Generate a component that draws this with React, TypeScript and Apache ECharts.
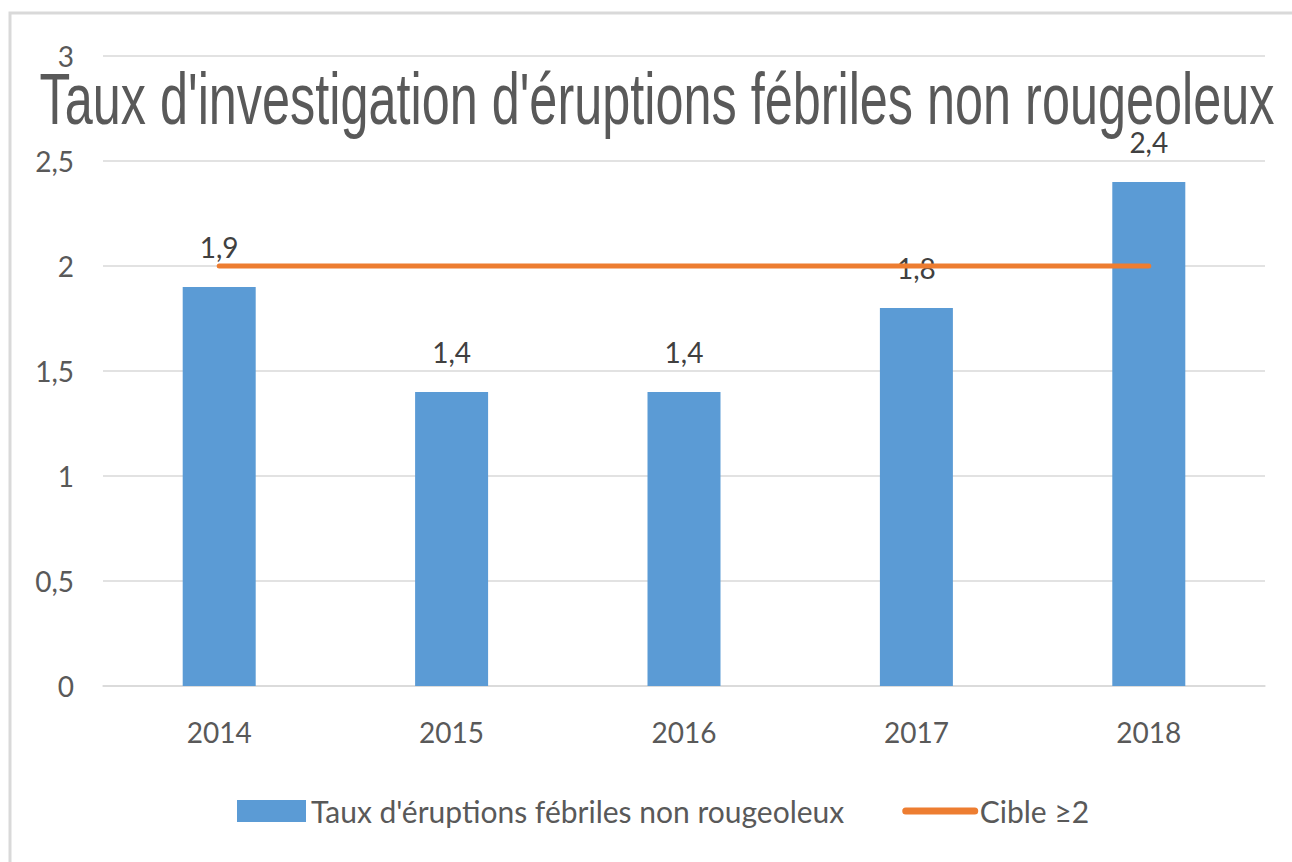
import React, { useEffect, useRef } from "react";
import * as echarts from "echarts";

const categories = ["2014", "2015", "2016", "2017", "2018"];
const tauxValues = [1.9, 1.4, 1.4, 1.8, 2.4];
const cibleValues = [2, 2, 2, 2, 2];
const seriesNames = ["Taux d'éruptions fébriles non rougeoleux", "Cible ≥2"];
const titleText = "Taux d'investigation d'éruptions fébriles non rougeoleux";
const yMin = 0;
const yMax = 3;
const yInterval = 0.5;

const fr = (v: number) => String(v).replace(".", ",");

export default function App() {
  const ref = useRef<HTMLDivElement>(null);
  useEffect(() => {
    if (!ref.current) return;
    const chart = echarts.init(ref.current, null, { renderer: "svg" });
    const textColor = "#595959";
    const font = "Lato";
    chart.setOption({
      animation: false,
      backgroundColor: "#ffffff",
      grid: { left: 103, right: 27, top: 56, bottom: 176, containLabel: false },
      graphic: [
        {
          type: "rect",
          z: -10,
          shape: { x: 10, y: 13, width: 1320, height: 900 },
          style: { fill: "none", stroke: "#d9d9d9", lineWidth: 3 },
        },
        {
          type: "text",
          z: 100,
          x: 657,
          y: 99,
          scaleX: 0.7,
          style: {
            text: titleText,
            fontFamily: "Liberation Sans",
            fontSize: 72,
            fill: textColor,
            align: "center",
            verticalAlign: "middle",
            textAlign: "center",
            textVerticalAlign: "middle",
          },
        },
      ],
      legend: {
        left: 232,
        top: 791,
        itemWidth: 69,
        itemHeight: 22,
        itemGap: 58,
        textStyle: { fontFamily: font, fontSize: 30, color: textColor },
        data: [
          { name: seriesNames[0], icon: "rect" },
          {
            name: seriesNames[1],
            lineStyle: { width: 7, cap: "round" },
            itemStyle: { opacity: 0, color: "transparent", borderWidth: 0 },
          },
        ],
      },
      xAxis: {
        type: "category",
        data: categories,
        axisLine: { show: true, lineStyle: { color: "#d9d9d9", width: 1.5 } },
        axisTick: { show: false },
        axisLabel: { color: textColor, fontFamily: font, fontSize: 28, margin: 32 },
      },
      yAxis: {
        type: "value",
        min: yMin,
        max: yMax,
        interval: yInterval,
        axisLine: { show: false },
        axisTick: { show: false },
        splitLine: { lineStyle: { color: "#d9d9d9", width: 1.5 } },
        axisLabel: {
          color: textColor,
          fontFamily: font,
          fontSize: 28,
          margin: 29,
          formatter: (v: number) => fr(v),
        },
      },
      series: [
        {
          name: seriesNames[0],
          type: "bar",
          data: tauxValues,
          barWidth: 73,
          itemStyle: { color: "#5B9BD5" },
          label: {
            show: true,
            position: "top",
            distance: 26,
            color: "#404040",
            fontFamily: font,
            fontSize: 28,
            formatter: (p: any) => fr(p.value),
          },
        },
        {
          name: seriesNames[1],
          type: "line",
          data: cibleValues,
          symbol: "none",
          z: 5,
          itemStyle: { color: "#ED7D31" },
          lineStyle: { color: "#ED7D31", width: 5, cap: "round" },
        },
      ],
    });
    return () => chart.dispose();
  }, []);
  return (
    <div
      ref={ref}
      style={{ position: "absolute", left: 0, top: 0, width: 1292, height: 862 }}
    />
  );
}
